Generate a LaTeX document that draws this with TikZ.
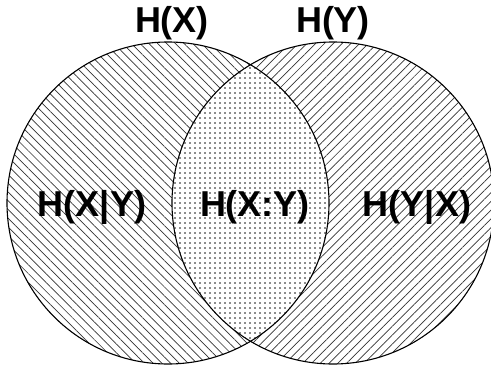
\documentclass[tikz,border=0pt]{standalone}
\usepackage{fontspec}
\setmainfont{Liberation Sans}
\usetikzlibrary{patterns.meta}

\tikzset{
    lbl/.style={font=\fontsize{36}{40}\selectfont\bfseries, inner sep=0pt, anchor=base},
    hatchL/.style={pattern={Lines[angle=-45, distance=6.2pt, line width=0.7pt]}, pattern color=black!80},
    hatchR/.style={pattern={Lines[angle=45, distance=6.2pt, line width=0.7pt]}, pattern color=black!80},
    dotted area/.style={pattern={Dots[distance=5pt, radius=0.85pt]}, pattern color=black!90}
}

\begin{document}
\begin{tikzpicture}[x=1pt, y=1pt, line width=1.1pt]
    % 画布范围
    \clip (0,0) rectangle (491,368);

    % 两个圆的圆心
    \coordinate (cx) at (168,165);
    \coordinate (cy) at (333,165);

    % 左圆：H(X|Y) 斜线
    \fill[hatchL] (cx) circle (161);
    % 右圆：H(Y|X) 斜线
    \fill[hatchR] (cy) circle (161);

    % 交集：H(X:Y) 点阵
    \begin{scope}
        \clip (cx) circle (161);
        \fill[white] (cy) circle (161);
        \fill[dotted area] (cy) circle (161);
    \end{scope}

    % 圆周
    \draw (cx) circle (161);
    \draw (cy) circle (161);

    % 标签
    \node[lbl] (hx) at (172,335) {H(X)};
    \node[lbl] (hy) at (333,335) {H(Y)};
    \node[lbl] (hxy) at (92,152) {H(X|Y)};
    \node[lbl] (mxy) at (255,152) {H(X:Y)};
    \node[lbl] (hyx) at (417,152) {H(Y|X)};
\end{tikzpicture}
\end{document}
